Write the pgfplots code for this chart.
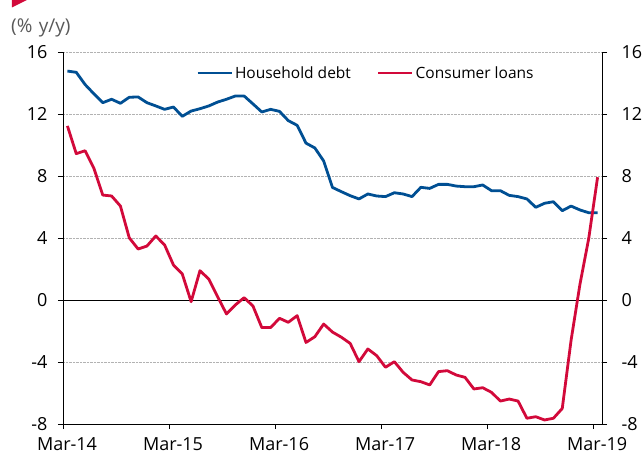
\documentclass[border=0pt]{standalone}
\usepackage{fontspec}
\setmainfont{Open Sans}
\usepackage{pgfplots}
\usepackage{pgfplotstable}
\pgfplotsset{compat=1.18}
\definecolor{hhblue}{HTML}{004F93}
\definecolor{clred}{HTML}{D2093A}
\pgfplotstableread{
x hh cl
0.5 14.77 11.23
1.5 14.69 9.44
2.5 13.90 9.63
3.5 13.30 8.49
4.5 12.73 6.77
5.5 12.95 6.71
6.5 12.69 6.06
7.5 13.08 4.01
8.5 13.10 3.29
9.5 12.73 3.48
10.5 12.52 4.13
11.5 12.30 3.55
12.5 12.45 2.26
13.5 11.85 1.68
14.5 12.19 -0.11
15.5 12.34 1.89
16.5 12.52 1.35
17.5 12.77 0.21
18.5 12.95 -0.90
19.5 13.16 -0.32
20.5 13.16 0.15
21.5 12.65 -0.39
22.5 12.13 -1.78
23.5 12.30 -1.78
24.5 12.17 -1.18
25.5 11.57 -1.44
26.5 11.27 -1.01
27.5 10.12 -2.74
28.5 9.81 -2.37
29.5 8.97 -1.55
30.5 7.26 -2.07
31.5 6.99 -2.40
32.5 6.73 -2.80
33.5 6.52 -3.98
34.5 6.84 -3.16
35.5 6.71 -3.59
36.5 6.67 -4.34
37.5 6.92 -3.98
38.5 6.84 -4.67
39.5 6.67 -5.16
40.5 7.27 -5.27
41.5 7.20 -5.48
42.5 7.46 -4.62
43.5 7.46 -4.56
44.5 7.35 -4.84
45.5 7.31 -4.99
46.5 7.31 -5.74
47.5 7.42 -5.66
48.5 7.05 -5.96
49.5 7.05 -6.52
50.5 6.75 -6.39
51.5 6.67 -6.52
52.5 6.52 -7.63
53.5 5.98 -7.53
54.5 6.24 -7.74
55.5 6.34 -7.63
56.5 5.76 -7.00
57.5 6.06 -2.60
58.5 5.81 1.00
59.5 5.63 3.98
60.5 5.63 7.92
}\datatable
\begin{document}
\begin{tikzpicture}
\useasboundingbox (-63pt,-33pt) rectangle (581pt,424pt);
\fill[clred] (-51pt,424pt) -- (-36pt,424pt) -- (-51pt,416.5pt) -- cycle;
\node[anchor=west, text=black!65, font=\fontsize{19}{22}\selectfont, inner sep=0pt] at (-52pt,396pt) {(\%\,\,y/y)};
\begin{axis}[
  at={(0,0)}, anchor=south west,
  scale only axis, width=539pt, height=372pt,
  xmin=0, xmax=61, ymin=-8, ymax=16,
  axis x line*=bottom, axis y line*=left,
  axis line style={black, line width=0.9pt},
  xtick={0,12,24,36,48,60},
  xticklabels={Mar-14,Mar-15,Mar-16,Mar-17,Mar-18,Mar-19},
  ytick={-8,-4,0,4,8,12,16},
  yticklabels={-8,-4,0,4,8,12,16},
  tick align=outside, major tick length=5pt,
  tick style={black, line width=0.9pt},
  ticklabel style={font=\fontsize{18}{21}\selectfont},
  xticklabel style={xshift=4pt, yshift=-5pt},
  yticklabel style={xshift=-7pt},
  ymajorgrids, grid style={densely dotted, black!30, line width=0.6pt},
  legend style={at={(0.2468,0.9435)}, anchor=west, draw=none, fill=none, inner sep=0pt,
    font=\fontsize{15.5}{18}\selectfont, legend columns=2,
    /tikz/every even column/.append style={column sep=24pt}},
  legend image code/.code={\draw[#1, line width=2.8pt] (0pt,0pt) -- (34pt,0pt);},
]
\addplot[black, line width=0.9pt, forget plot] coordinates {(0,0) (61,0)};
\addplot[hhblue, line width=2.8pt, line join=round] table[x=x, y=hh] {\datatable};
\addlegendentry{Household debt}
\addplot[clred, line width=2.8pt, line join=round] table[x=x, y=cl] {\datatable};
\addlegendentry{Consumer loans}
\end{axis}
\begin{axis}[
  at={(0,0)}, anchor=south west,
  scale only axis, width=539pt, height=372pt,
  xmin=0, xmax=61, ymin=-8, ymax=16,
  axis x line=none, axis y line*=right,
  axis line style={black, line width=0.9pt},
  ytick={-8,-4,0,4,8,12,16},
  yticklabels={-8,-4,0,4,8,12,16},
  tick align=outside, major tick length=5pt,
  tick style={black, line width=0.9pt},
  ticklabel style={font=\fontsize{18}{21}\selectfont},
  yticklabel style={xshift=11pt},
]
\end{axis}
\end{tikzpicture}
\end{document}
